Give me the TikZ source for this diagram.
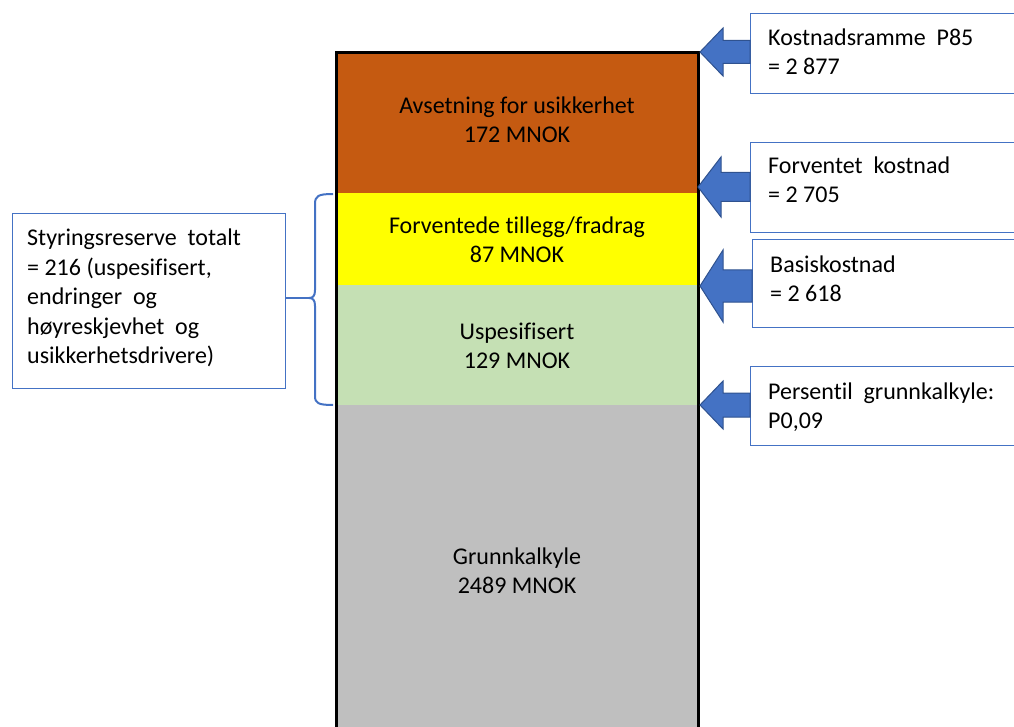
\documentclass[tikz,border=0pt]{standalone}
\usepackage{fontspec}
\setmainfont{Carlito}[Ligatures=NoCommon]
\usetikzlibrary{calc}
\definecolor{cOrange}{HTML}{C55A11}
\definecolor{cYellow}{HTML}{FFFF00}
\definecolor{cGreen}{HTML}{C5E0B4}
\definecolor{cGray}{HTML}{BFBFBF}
\definecolor{cBlue}{HTML}{4472C4}
\definecolor{cBlueDark}{HTML}{2F528F}
\newcommand\dsp{\hspace{0.45em}}
\tikzset{
  seg/.style={draw=none, inner sep=0pt},
  segtext/.style={align=center, font=\fontsize{24}{29.5}\selectfont, inner sep=0pt},
  infobox/.style={draw=cBlue, line width=1.2pt, fill=white, anchor=north west, inner sep=0pt},
  infotext/.style={align=left, anchor=west, font=\fontsize{24}{29.5}\selectfont, inner sep=0pt},
  blockarrow/.style={fill=cBlue, draw=cBlueDark, line width=1pt, line join=miter},
  bracket/.style={draw=cBlue, line width=2pt},
}
\newcommand\blockarr[5]{% tip x, tip y, head half, shaft half, end x
  \draw[blockarrow] (#1,#2) -- (#1+23,#2-#3) -- (#1+23,#2-#4) -- (#5,#2-#4) -- (#5,#2+#4) -- (#1+23,#2+#4) -- (#1+23,#2+#3) -- cycle;}
\begin{document}
\begin{tikzpicture}[x=1pt,y=-1pt]
\useasboundingbox (0,0) rectangle (1014,727);
\clip (0,0) rectangle (1014,727);
% bar segments
\fill[cOrange] (336,53) rectangle (698,193);
\fill[cYellow] (336,193) rectangle (698,285);
\fill[cGreen] (336,285) rectangle (698,405);
\fill[cGray] (336,405) rectangle (698,740);
\draw[black, line width=3pt] (336,740) -- (336,53) -- (698,53) -- (698,740);
\node[segtext] (t1) at (517,120) {Avsetning for usikkerhet\\172 MNOK};
\node[segtext] (t2) at (517,240) {Forventede tillegg/fradrag\\87 MNOK};
\node[segtext] (t3) at (517,346) {Uspesifisert\\129 MNOK};
\node[segtext] (t4) at (517,571) {Grunnkalkyle\\2489 MNOK};
% right boxes
\node[infobox, minimum width=280pt, minimum height=80pt] (b1) at (750,13) {};
\node[infobox, minimum width=280pt, minimum height=90pt] (b2) at (750,142) {};
\node[infobox, minimum width=280pt, minimum height=88pt] (b3) at (752,239) {};
\node[infobox, minimum width=280pt, minimum height=79pt] (b4) at (750,366) {};
\node[infotext] (bt1) at (768,52) {Kostnadsramme\dsp P85\\= 2 877};
\node[infotext] (bt2) at (768,180) {Forventet\dsp kostnad\\= 2 705};
\node[infotext] (bt3) at (770,279) {Basiskostnad\\= 2 618};
\node[infotext] (bt4) at (768,407) {Persentil\dsp grunnkalkyle:\\P0,09};
% arrows
\blockarr{700}{52}{24}{11.5}{750}
\blockarr{698}{187}{30}{14.5}{750}
\blockarr{700}{286}{36}{16}{752}
\blockarr{700}{405}{24}{12}{750}
% left box
\node[infobox, minimum width=273pt, minimum height=175pt] (lb) at (12,213) {};
\node[infotext] (lt) at (27,298) {Styringsreserve\dsp totalt\\= 216 (uspesifisert,\\endringer\dsp og\\høyreskjevhet\dsp og\\usikkerhetsdrivere)};
% brace
\coordinate (bm) at (309,298);
\draw[bracket] (lb.east |- bm) -- (bm);
\draw[bracket] (333,194) .. controls (318,194) and (315,196) .. (315,204) -- (315,290) .. controls (315,296) and (313,298) .. (bm)
  .. controls (313,298) and (315,300) .. (315,306) -- (315,396) .. controls (315,403) and (318,405) .. (333,405);
\end{tikzpicture}
\end{document}
